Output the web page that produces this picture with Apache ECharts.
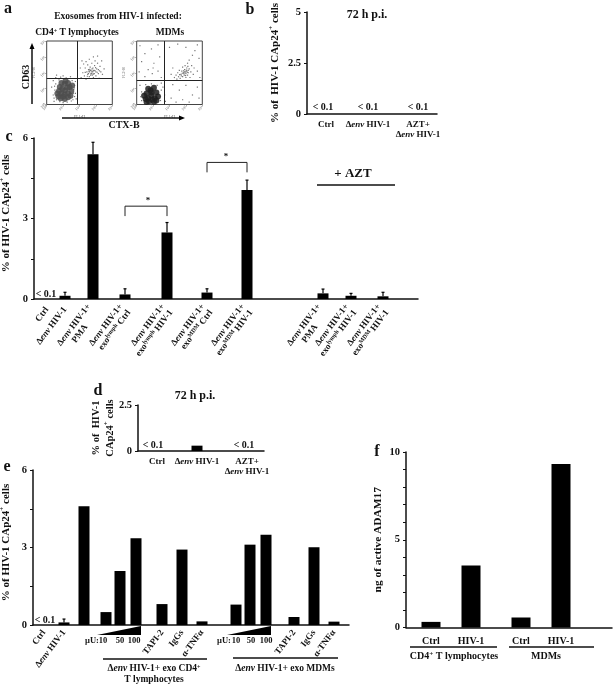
<!DOCTYPE html>
<html><head><meta charset="utf-8"><style>html,body{margin:0;padding:0;background:#fff}#c{width:613px;height:686px}</style>
<script src="https://cdn.jsdelivr.net/npm/echarts@6/dist/echarts.min.js"></script></head>
<body><div id="c"></div>
<script>
// ---- data ----
const bLabels = ['Ctrl', 'Δenv HIV-1', 'AZT+\nΔenv HIV-1'];
const bValues = [0, 0, 0];
const cLabels = ['Ctrl', 'Δenv HIV-1', 'Δenv HIV-1+\nPMA\u00a0\u00a0\u00a0\u00a0\u00a0\u00a0\u00a0\u00a0',
  'Δenv HIV-1+\nexo^lymph Ctrl', 'Δenv HIV-1+\nexo^lymph HIV-1', 'Δenv HIV-1+\nexo^MDM Ctrl', 'Δenv HIV-1+\nexo^MDM HIV-1',
  'Δenv HIV-1+\nPMA\u00a0\u00a0\u00a0\u00a0\u00a0\u00a0\u00a0\u00a0', 'Δenv HIV-1+\nexo^lymph HIV-1', 'Δenv HIV-1+\nexo^MDM HIV-1'];
const cValues = [0, 0.12, 5.39, 0.17, 2.48, 0.24, 4.06, 0.21, 0.12, 0.10];
const cErrTop = [0, 0.25, 5.84, 0.38, 2.85, 0.38, 4.43, 0.37, 0.21, 0.25];
const dLabels = ['Ctrl', 'Δenv HIV-1', 'AZT+\nΔenv HIV-1'];
const dValues = [0, 0.29, 0];
const eLabels = ['Ctrl', 'Δenv HIV-1', '', '', '', '', 'TAPI-2', 'IgGs', 'α-TNFα', '', '', '', 'TAPI-2', 'IgGs', 'α-TNFα'];
const eValues = [0, 0.10, 4.60, 0.50, 2.09, 3.36, 0.81, 2.92, 0.14, 0.79, 3.11, 3.49, 0.31, 3.01, 0.13];
const eErrTop = [0, 0.23];
const fLabels = ['Ctrl', 'HIV-1', 'Ctrl', 'HIV-1'];
const fValues = [0.32, 3.53, 0.57, 9.32];
// flow cytometry, in log decades [FL1, FL2]
const a1Dense = [[1.12,.9],[.9,.7],[1.3,.7],[.8,1.1],[1.4,1.1],[1.1,1.3],[1.0,.5],[1.3,.45],[.75,.85],[1.5,.85],[.9,1.35],[1.3,1.35],[1.1,.35],[.72,.5],[1.45,.55],[1.1,.65],[.95,1.0],[1.25,1.05],[.65,.7],[1.55,1.2],[1.15,1.5],[.85,.4]];
const a1Sparse = [[2.1,1.7],[2.2,2.0],[2.3,1.8],[2.35,2.3],[2.4,1.6],[2.45,2.05],[2.5,1.9],[2.5,2.5],[2.55,2.2],[2.6,1.75],[2.6,2.05],[2.65,2.35],[2.7,1.95],[2.7,2.15],[2.75,2.6],[2.78,1.85],[2.8,2.05],[2.82,2.3],[2.85,1.7],[2.88,2.15],[2.9,1.95],[2.92,2.45],[2.95,2.75],[3.0,2.05],[3.0,1.8],[3.05,2.25],[3.1,2.6],[3.15,1.95],[3.15,2.2],[3.2,1.65],[3.25,2.4],[3.3,2.05],[3.35,2.75],[3.4,1.9],[3.5,2.25],[2.25,2.55],[2.05,2.3],[2.15,2.75],[2.6,2.85],[2.85,3.0],[3.1,3.05],[2.4,2.7],[2.72,2.05],[2.68,1.85],[2.77,2.25],[2.62,2.22],[2.85,1.92],[2.94,2.13],[2.55,1.95],[2.65,2.15],[2.75,1.95],[2.83,2.12],[2.58,2.1],[3.08,2.03],[2.98,2.32],[2.48,1.78],[2.35,2.02],[3.22,2.12],
  [.4,1.5],[.55,1.7],[.85,1.72],[1.2,1.66],[1.45,1.75],[1.7,1.2],[1.75,.7],[1.8,.35],[1.65,.95],[.45,.2],[.5,.9],[.4,.6],[1.6,.3],[1.0,.12],[.3,1.1],[1.75,1.45],[.6,1.85],[1.0,1.8],[.55,1.3],[.48,1.15],[.6,.3],[.8,.18],[1.25,.15],[1.5,.22],[1.7,.5],[1.62,.7],[1.68,1.05],[1.55,1.5],[.75,1.55],[.45,.4]];
const a2Dense = [[.9,.55],[.7,.4],[1.1,.4],[.6,.7],[1.2,.75],[.85,.9],[.75,.2],[1.05,.15],[.55,.35],[1.3,.5],[.7,1.0],[1.05,1.05],[.95,.3],[.9,.75],[.45,.55],[1.2,.25],[.6,.15]];
const a2Sparse = [[2.3,1.7],[2.4,1.85],[2.45,1.6],[2.5,2.0],[2.55,1.75],[2.6,2.15],[2.65,1.65],[2.7,1.9],[2.75,2.1],[2.8,2.35],[2.8,1.75],[2.85,2.0],[2.9,1.85],[2.92,2.2],[2.95,2.45],[3.0,1.95],[3.0,1.7],[3.05,2.1],[3.05,2.3],[3.1,1.85],[3.1,2.6],[3.15,2.0],[3.2,2.25],[3.2,2.8],[3.25,1.7],[3.3,2.05],[3.35,2.45],[3.4,3.1],[3.45,1.9],[3.5,2.3],[2.1,1.9],[2.2,2.3],[2.97,2.05],[2.88,1.95],[3.02,2.17],[2.78,1.97],[3.12,2.4],[3.55,3.4],[2.92,2.05],[3.08,2.02],[2.72,1.8],[2.98,1.82],[3.14,2.15],[2.86,2.12],[2.62,1.88],
  [.2,3.7],[.5,3.2],[.9,3.5],[1.3,3.75],[.3,2.7],[.7,2.2],[1.05,2.6],[1.4,3.0],[.15,2.05],[1.3,2.1],[.95,1.95],[1.0,2.3],[.5,1.75],[1.5,1.7],[2.0,3.6],[2.5,3.8],[3.0,3.6],[3.7,3.75],[3.8,2.9],[3.7,2.1],[3.85,1.7],[2.2,1.25],[2.6,.9],[3.0,1.2],[3.4,.6],[3.7,1.1],[2.1,.4],[2.8,.3],[3.2,.15],[3.8,.4],[2.4,.15],[1.7,.6],[1.6,1.1],[1.75,.2],[.2,1.2],[.3,.8],[.3,.25],[.25,.5],[1.5,.9],[1.45,.25],[.55,1.25],[.9,1.3],[1.25,1.2],[1.5,1.35]];
// ---- layout: slot of each label on its 2px category band ----
const bSlots = [9, 30, 55], dSlots = [9, 29, 54];
const cSlots = [6, 15, 29, 45, 66, 86, 106, 144, 158, 174];
const eSlots = [5, 15, 25, 36, 43, 51, 64, 74, 84, 101, 108, 116, 130, 140, 150];
const fSlots = [12, 32, 57, 77];

const F = '"Liberation Serif","Times New Roman",serif', INK = '#111';
function mk(t) { return t.replace(/env/g, '{i|env}').replace(/\^(\S+)/g, '{s|$1}'); }
function rich(sz) {
  const base = { fontFamily: F, fontWeight: 'bold', fontSize: sz, color: INK, fill: INK };
  return { i: { ...base, fontStyle: 'italic' }, s: { ...base, fontSize: Math.round(sz * 0.65), verticalAlign: 'top', lineHeight: sz } };
}
function band(labels, slots, total) {
  const a = new Array(total).fill('');
  slots.forEach((s, i) => { a[s] = labels[i]; });
  return a;
}
function vals(values, slots, total) {
  const a = new Array(total).fill(null);
  slots.forEach((s, i) => { a[s] = values[i]; });
  return a;
}
const grids = [], xAxes = [], yAxes = [], series = [];
function panel(o) {
  const gi = grids.length;
  grids.push({ left: o.x, top: o.y, width: o.w, height: o.h, outerBoundsMode: 'none', containLabel: false });
  const total = Math.round(o.w / 2);
  xAxes.push({
    gridIndex: gi, type: 'category', data: band(o.labels, o.slots, total),
    axisLine: { lineStyle: { color: INK, width: 1.5 } }, axisTick: { show: false },
    axisLabel: { interval: 0, hideOverlap: false, rotate: o.rotate || 0, margin: o.margin || 6, fontFamily: F, fontWeight: 'bold',
      fontSize: o.labelSize || 9, color: INK, lineHeight: o.labelSize ? o.labelSize + 1 : 10, formatter: mk, rich: rich(o.labelSize || 9) }
  });
  yAxes.push({
    gridIndex: gi, type: 'value', min: 0, max: o.max, interval: o.interval, splitLine: { show: false },
    name: mk(o.title), nameLocation: 'middle', nameGap: o.nameGap, nameRotate: 90, nameMoveOverlap: false,
    nameTextStyle: { fontFamily: F, fontWeight: 'bold', fontSize: o.titleSize || 10.5, color: INK, lineHeight: 14, rich: rich(o.titleSize || 10.5), padding: o.namePad || 0 },
    axisLine: { show: true, lineStyle: { color: INK, width: 1.5 } }, axisTick: { show: true, length: 3, lineStyle: { color: INK, width: 1 } },
    axisLabel: { margin: 6, fontFamily: F, fontWeight: 'bold', fontSize: 10.5, color: INK, formatter: v => (o.show.includes(v) ? String(v) : '') }
  });
  series.push({ type: 'bar', xAxisIndex: gi, yAxisIndex: gi, barWidth: o.barW || 11, itemStyle: { color: '#000' }, data: vals(o.values, o.slots, total), silent: true });
  if (o.err) {
    series.push({
      type: 'custom', xAxisIndex: gi, yAxisIndex: gi, silent: true, clip: false,
      data: o.err.map((e, i) => [o.slots[i], o.values[i], e]).filter(d => d[2] > 0),
      encode: { x: 0, y: [1, 2] },
      renderItem(p, api) {
        const a = api.coord([api.value(0), api.value(1)]), b = api.coord([api.value(0), api.value(2)]);
        const st = { stroke: '#000', lineWidth: 1.2 };
        return { type: 'group', children: [
          { type: 'line', shape: { x1: a[0], y1: a[1], x2: b[0], y2: b[1] }, style: st },
          { type: 'line', shape: { x1: b[0] - 1.5, y1: b[1], x2: b[0] + 1.5, y2: b[1] }, style: st }] };
      }
    });
  }
  return gi;
}
panel({ x: 307, y: 12, w: 130, h: 102, labels: bLabels, slots: bSlots, values: bValues, max: 5, interval: 2.5, show: [0, 2.5, 5], title: '% of  HIV-1 CAp24^+ cells', nameGap: 25, titleSize: 11, labelSize: 9 });
const gc = panel({ x: 34, y: 138, w: 384, h: 161, labels: cLabels, slots: cSlots, values: cValues, err: cErrTop, max: 6, interval: 1.5, show: [0, 3, 6], title: '% of HIV-1 CAp24^+ cells', nameGap: 21, titleSize: 11, rotate: 53, margin: 9, namePad: [0, 0, 0, 10] });
panel({ x: 138, y: 405, w: 126, h: 46, labels: dLabels, slots: dSlots, values: dValues, max: 2.5, interval: 2.5, show: [0, 2.5], title: '% of  HIV-1\nCAp24^+ cells', nameGap: 21 });
panel({ x: 33, y: 470, w: 316, h: 155, labels: eLabels, slots: eSlots, values: eValues, err: eErrTop, max: 6, interval: 1.5, show: [0, 3, 6], title: '% of HIV-1 CAp24^+ cells', nameGap: 20, titleSize: 11, rotate: 53, margin: 6, namePad: [0, 0, 0, 10] });
panel({ x: 406, y: 452, w: 206, h: 175.5, labels: fLabels, slots: fSlots, values: fValues, barW: 19, max: 10, interval: 1, show: [0, 5, 10], title: 'ng of active ADAM17', nameGap: 21, titleSize: 11.4, labelSize: 10, margin: 8 });

// significance brackets of panel c
const cBrackets = [[45, 66, 3.46, 3.09], [86, 106, 5.09, 4.72]];
series.push({
  type: 'custom', xAxisIndex: gc, yAxisIndex: gc, silent: true, clip: false, data: cBrackets, encode: { x: [0, 1], y: [2, 3] },
  renderItem(p, api) {
    const a = api.coord([api.value(0), api.value(2)]), b = api.coord([api.value(1), api.value(2)]), c = api.coord([api.value(0), api.value(3)]);
    return { type: 'polyline', shape: { points: [[a[0], c[1]], a, b, [b[0], c[1]]] }, style: { stroke: '#222', lineWidth: 1, fill: null } };
  }
});

// flow cytometry panels
function flow(x, dense, sparse, qx, qy, blobColor, blobSize) {
  const gi = grids.length;
  grids.push({ left: x, top: 41, width: 65.6, height: 63.5, show: true, borderColor: '#444', borderWidth: 1, outerBoundsMode: 'none', containLabel: false });
  const lab = { fontSize: 4, color: '#666', fontFamily: F, margin: 2, formatter: v => '10' + '⁰¹²³⁴'[v] };
  const ax = { gridIndex: gi, type: 'value', min: 0, max: 4, interval: 1, splitLine: { show: false }, axisLine: { show: false }, axisTick: { show: true, inside: false, length: 2, lineStyle: { color: '#666', width: 0.5 } } };
  xAxes.push({ ...ax, axisLabel: { ...lab, rotate: 45 }, name: 'FL1-H', nameLocation: 'middle', nameGap: 8, nameTextStyle: { fontSize: 4, color: '#666', fontFamily: F } });
  yAxes.push({ ...ax, axisLabel: { ...lab, rotate: 45 }, name: 'FL2-H', nameLocation: 'middle', nameGap: 9, nameTextStyle: { fontSize: 4, color: '#666', fontFamily: F } });
  series.push({ type: 'scatter', xAxisIndex: gi, yAxisIndex: gi, silent: true, symbolSize: blobSize, itemStyle: { color: blobColor, opacity: 0.85 }, data: dense });
  series.push({ type: 'scatter', xAxisIndex: gi, yAxisIndex: gi, silent: true, symbol: 'rect', symbolSize: 1.2, itemStyle: { color: '#555' }, data: sparse,
    markLine: { silent: true, symbol: 'none', label: { show: false }, animation: false, lineStyle: { color: '#222', width: 1, type: 'solid' }, data: [{ xAxis: qx }, { yAxis: qy }] } });
}
flow(46.7, a1Dense, a1Sparse, 1.87, 1.63, '#4d4d4d', 6);
flow(136.7, a2Dense, a2Sparse, 1.66, 1.53, '#1f1f1f', 6);

// annotations
function txt(t, x, y, sz, extra) {
  return { type: 'text', x, y, z: 10, silent: true, ...extra, style: { text: mk(t), fontFamily: F, fontWeight: 'bold', fontSize: sz, fill: INK, align: 'center', verticalAlign: 'middle', rich: rich(sz) } };
}
function ln(x1, y1, x2, y2, w) { return { type: 'line', z: 10, silent: true, shape: { x1, y1, x2, y2 }, style: { stroke: INK, lineWidth: w || 1.5 } }; }
function tri(points) { return { type: 'polygon', z: 10, silent: true, shape: { points }, style: { fill: '#000' } }; }
const graphic = [
  txt('a', 8, 9, 16), txt('b', 250, 10, 16), txt('c', 9, 137, 16), txt('d', 98, 391, 16), txt('e', 7, 467, 16), txt('f', 377, 452, 16),
  txt('Exosomes from HIV-1 infected:', 118, 17, 9.5), txt('CD4^+ T lymphocytes', 77, 33, 9.5), txt('MDMs', 170, 33, 9.5),
  txt('CD63', 26, 77, 10, { rotation: Math.PI / 2 }), txt('CTX-B', 124, 125, 10),
  ln(32, 104, 32, 47), tri([[32, 43], [29.5, 49], [34.5, 49]]), ln(62, 118, 181, 118), tri([[185, 118], [179, 115.5], [179, 120.5]]),
  txt('72 h p.i.', 367, 15, 12), txt('< 0.1', 323, 107, 10), txt('< 0.1', 368, 107, 10), txt('< 0.1', 418, 107, 10),
  txt('< 0.1', 46, 294, 10), txt('*', 148, 201, 9), txt('*', 226, 157, 9), txt('+ AZT', 353, 174, 13), ln(317, 185, 395, 185),
  txt('72 h p.i.', 195, 396, 12), txt('< 0.1', 153, 445, 10), txt('< 0.1', 244, 445, 10),
  txt('< 0.1', 45, 620, 10),
  tri([[97, 635], [141, 635], [141, 626]]), tri([[227, 635], [271, 635], [271, 626]]),
  txt('µU:', 92, 641, 8.5), txt('10', 103, 641, 8.5), txt('50', 120, 641, 8.5), txt('100', 134, 641, 8.5),
  txt('µU:', 224, 641, 8.5), txt('10', 236, 641, 8.5), txt('50', 251, 641, 8.5), txt('100', 266, 641, 8.5),
  ln(103, 659, 207, 659), ln(233, 658, 338, 658),
  txt('Δenv HIV-1+ exo CD4^+', 154, 669, 9.5), txt('T lymphocytes', 154, 680, 9.5), txt('Δenv HIV-1+ exo MDMs', 285, 669, 9.5),
  ln(410, 647, 497, 647), ln(509, 647, 594, 647), txt('CD4^+ T lymphocytes', 454, 656, 10), txt('MDMs', 546, 656, 10)
];
const chart = echarts.init(document.getElementById('c'), null, { renderer: 'canvas' });
chart.setOption({ animation: false, backgroundColor: '#fff', tooltip: { show: false }, grid: grids, xAxis: xAxes, yAxis: yAxes, series, graphic });
</script></body></html>
